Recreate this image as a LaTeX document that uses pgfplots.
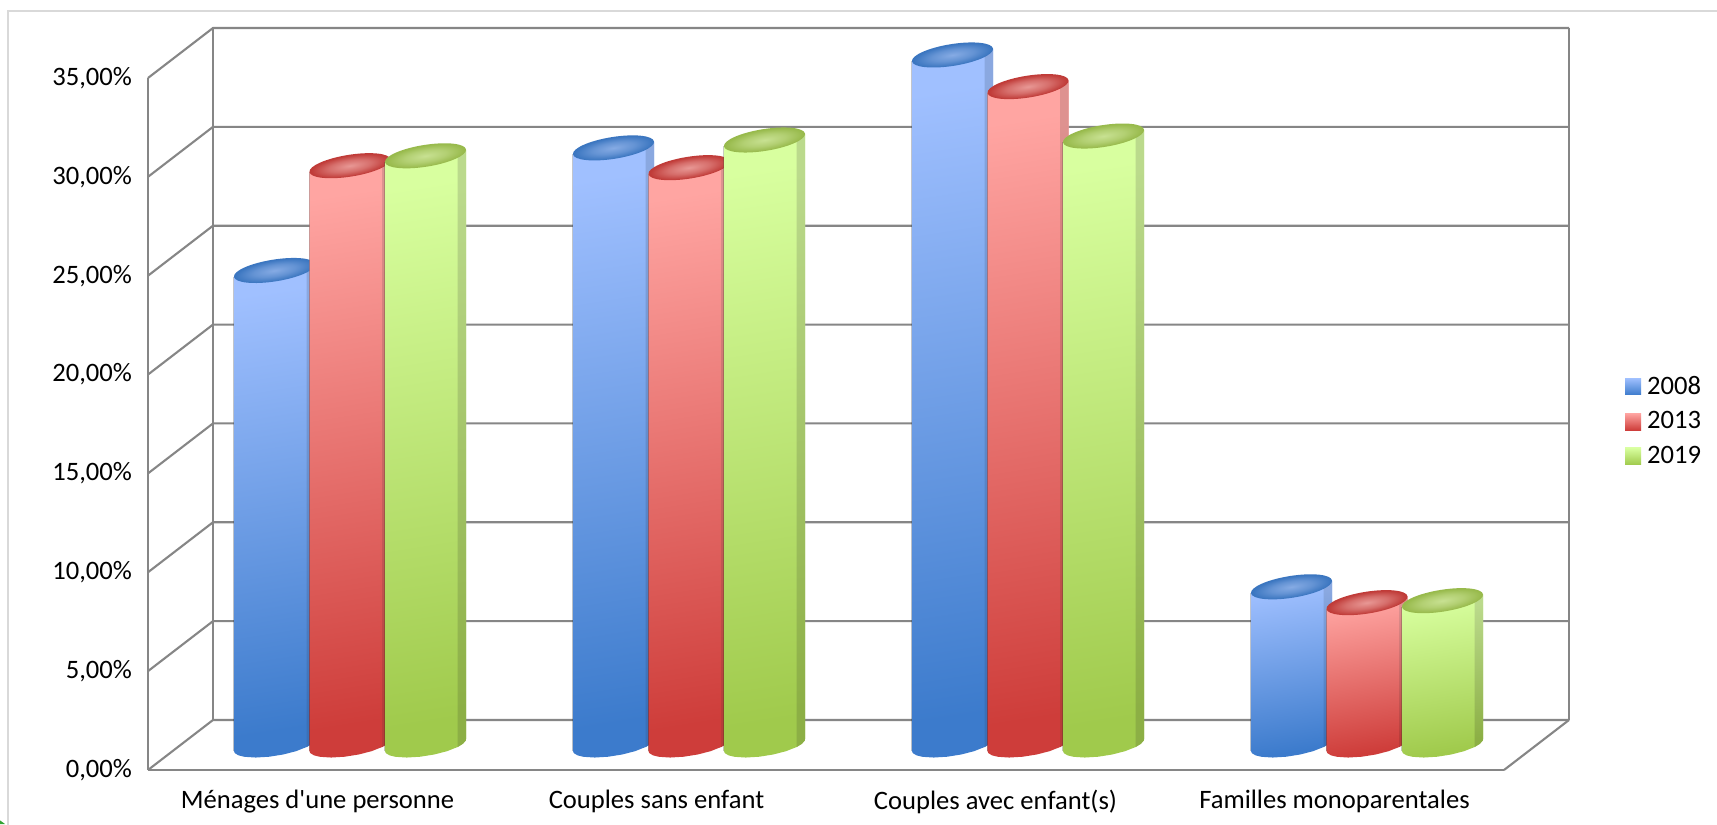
\documentclass[border=0pt]{standalone}
\usepackage{fontspec}
\setmainfont{Carlito}[Ligatures=TeXOff]
\usepackage{pgfplots}
\usepackage{pgfplotstable}
\pgfplotsset{compat=1.18}

% Household shares (percent), one column per survey year
\pgfplotstableread{
group y2008 y2013 y2019
0 24.0 29.3 29.8
1 30.2 29.2 30.6
2 34.9 33.3 30.8
3 8.0 7.2 7.3
}\sharetable

% Outline of a cylinder body: offsets in px from the bar centre, top=1 for lid points
\pgfplotstableread{
dx dy top
-40.55 -6.02 1
-40.55 -6.02 0
-39.6 -8.17 0
-36.0 -10.35 0
-29.9 -11.82 0
-18.8 -12.53 0
-5.36 -11.72 0
8.7 -9.5 0
21.7 -6.13 0
32.1 -2.02 0
37.4 1.25 0
40.2 4.43 0
40.55 6.02 0
40.55 6.02 1
}\bodyshape

% Narrow lit facet along the right edge of a cylinder
\pgfplotstableread{
dx dy top
32.1 -2.02 0
37.4 1.25 0
40.2 4.43 0
40.55 6.02 0
40.55 6.02 1
32.1 3.0 1
}\facetshape

\definecolor{wall}{HTML}{868686}
\definecolor{frameline}{HTML}{D9D9D9}
% body top, body bottom, facet top, facet bottom, lid centre, lid rim
\definecolor{blueA}{HTML}{A0C0FF}\definecolor{blueB}{HTML}{3C7BCC}
\definecolor{blueC}{HTML}{8AA8E0}\definecolor{blueD}{HTML}{3A70B8}
\definecolor{blueE}{HTML}{86ABE4}\definecolor{blueF}{HTML}{3B76C0}
\definecolor{redA}{HTML}{FFA5A2}\definecolor{redB}{HTML}{CE3D3A}
\definecolor{redC}{HTML}{DE9290}\definecolor{redD}{HTML}{B83C39}
\definecolor{redE}{HTML}{E89895}\definecolor{redF}{HTML}{C03B38}
\definecolor{greenA}{HTML}{D8FF9F}\definecolor{greenB}{HTML}{A0CA4C}
\definecolor{greenC}{HTML}{BBDA8C}\definecolor{greenD}{HTML}{8CAF45}
\definecolor{greenE}{HTML}{C8E192}\definecolor{greenF}{HTML}{98BA4C}

\newcommand{\lidshading}[1]{%
  \pgfdeclareradialshading{lidshade#1}{\pgfpointorigin}{%
    color(0bp)=(#1E); color(13bp)=(#1E!55!#1F); color(24bp)=(#1F); color(50bp)=(#1F)}%
  \pgfdeclareplotmark{lid#1}{%
    \begin{pgfscope}%
      \pgflowlevelsynccm
      \pgflowlevel{\pgftransformrotate{9}}%
      \pgfpathellipse{\pgfpointorigin}{\pgfqpoint{20.5pt}{0pt}}{\pgfqpoint{0pt}{5.45pt}}%
      \pgfshadepath{lidshade#1}{0}%
      \pgfusepath{discard}%
    \end{pgfscope}}}
\lidshading{blue}\lidshading{red}\lidshading{green}

% one cylinder: column, row, slot, colour
\newcommand{\cylbody}[4]{%
  \pgfplotstablegetelem{#2}{#1}\of\sharetable
  \pgfmathsetmacro\val{\pgfplotsretval}%
  \pgfmathsetmacro\cx{#2+#3*0.22271}%
  \addplot[midplane,forget plot,draw=none,top color=#4A,bottom color=#4B,shading angle=9]
    table[x expr={\cx+\thisrow{dx}/339},y expr={\thisrow{top}*\val+\thisrow{dy}/19.76}] {\bodyshape} -- cycle;
  \addplot[midplane,forget plot,draw=none,top color=#4C,bottom color=#4D,shading angle=9]
    table[x expr={\cx+\thisrow{dx}/339},y expr={\thisrow{top}*\val+\thisrow{dy}/19.76}] {\facetshape} -- cycle;
  \addplot[midplane,forget plot,black,opacity=0.2,line width=0.5pt]
    coordinates {(\cx-0.1196,-0.305)(\cx-0.1196,\val-0.305)};
}
\newcommand{\cylseries}[3]{% column, slot, colour
  \cylbody{#1}{0}{#2}{#3}\cylbody{#1}{1}{#2}{#3}\cylbody{#1}{2}{#2}{#3}\cylbody{#1}{3}{#2}{#3}
  \addplot[midplane,forget plot,only marks,mark=lid#3]
    table[x expr={\coordindex+#2*0.22271},y=#1] {\sharetable};
}

\begin{document}
\begin{tikzpicture}
  \fill[white] (0,0) rectangle (858.5pt,413pt);
  \draw[frameline,line width=1pt] (4pt,0) -- (4pt,407.5pt) -- (858.5pt,407.5pt);
  \fill[green!55!black!80!white] (0,1pt) -- (2.5pt,1pt) -- (0,2.8pt) -- cycle;
  \begin{axis}[
    at={(74pt,28pt)},anchor=south west,
    width=678pt,height=346pt,scale only axis,
    xmin=-0.5,xmax=3.5,ymin=0,ymax=35,
    clip=false,clip mode=individual,
    axis x line=bottom,axis y line=left,
    axis line style={-,draw=wall,line width=1.4pt},
    major tick length=0pt,
    xtick={0,1,2,3},
    xticklabels={Ménages d'une personne,Couples sans enfant,Couples avec enfant(s),Familles monoparentales},
    ytick={0,5,10,15,20,25,30,35},
    scaled y ticks=false,
    yticklabel={\pgfmathprintnumber{\tick}\%},
    /pgf/number format/.cd,fixed,fixed zerofill,precision=2,use comma,assume math mode=true,
    /pgfplots/.cd,
    tick label style={font=\fontsize{13.3}{15}\selectfont,text=black},
    yticklabel style={xshift=-4.5pt},
    xticklabel style={yshift=-6.7pt},
    midplane/.style={xshift=16.25pt,yshift=12.5pt},
    legend style={at={(1.089,0.504)},anchor=west,draw=none,fill=none,
      font=\fontsize{13.3}{15}\selectfont,row sep=3.2pt,inner sep=0pt,
      nodes={inner xsep=3pt}},
    legend cell align=left,
  ]
    % back wall, side wall and floor
    \pgfplotsinvokeforeach{0,5,10,15,20,25,30,35}{
      \draw[wall,line width=1.05pt] (axis cs:-0.5,#1) -- ([shift={(32.5pt,25pt)}]axis cs:-0.5,#1)
        -- ([shift={(32.5pt,25pt)}]axis cs:3.5,#1);
    }
    \draw[wall,line width=1.4pt] ([shift={(32.5pt,25pt)}]axis cs:-0.5,0) -- ([shift={(32.5pt,25pt)}]axis cs:-0.5,35);
    \draw[wall,line width=1.4pt] ([shift={(32.5pt,25pt)}]axis cs:3.5,0) -- ([shift={(32.5pt,25pt)}]axis cs:3.5,35);
    \draw[wall,line width=1.05pt] (axis cs:3.5,0) -- ([shift={(32.5pt,25pt)}]axis cs:3.5,0);

    \cylseries{y2008}{-1}{blue}
    \cylseries{y2013}{0}{red}
    \cylseries{y2019}{1}{green}

    \addlegendimage{legend image code/.code={\shade[draw=none,top color=blueA,bottom color=blueB] (0pt,-4.2pt) rectangle (8pt,4.2pt);}}
    \addlegendentry{2008}
    \addlegendimage{legend image code/.code={\shade[draw=none,top color=redA,bottom color=redB] (0pt,-4.2pt) rectangle (8pt,4.2pt);}}
    \addlegendentry{2013}
    \addlegendimage{legend image code/.code={\shade[draw=none,top color=greenA,bottom color=greenB] (0pt,-4.2pt) rectangle (8pt,4.2pt);}}
    \addlegendentry{2019}
  \end{axis}
  \pgfresetboundingbox
  \path[use as bounding box] (0,1pt) rectangle (858.5pt,413pt);
\end{tikzpicture}
\end{document}
